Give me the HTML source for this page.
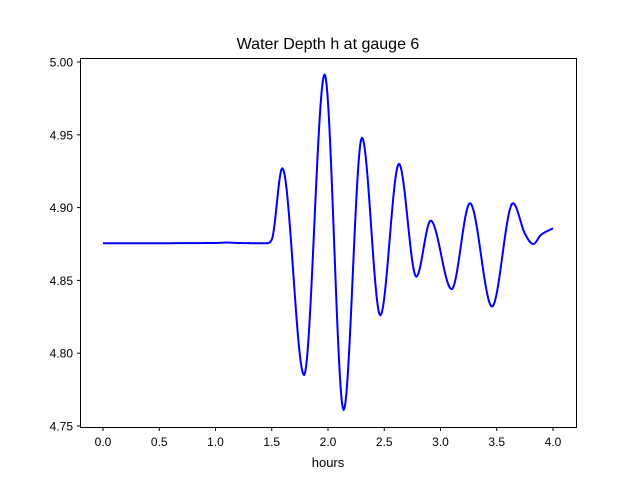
<!DOCTYPE html>
<html><head><meta charset="utf-8"><style>
body{margin:0;background:#fff}
svg{display:block;font-family:"Liberation Sans","DejaVu Sans",sans-serif}
</style></head><body>
<svg id="chart" width="640" height="480">
<rect x="0" y="0" width="640" height="480" fill="#fff"/>
<text x="328" y="49" font-size="16" text-anchor="middle">Water Depth h at gauge 6</text>
<g id="plot"></g>
<rect x="80.5" y="58.5" width="496" height="369" fill="none" stroke="#000" stroke-width="1"/>
<text x="328" y="467" font-size="13" text-anchor="middle">hours</text>
</svg>
<script>
const xTicks=[0,0.5,1.0,1.5,2.0,2.5,3.0,3.5,4.0];
const xTickLabels=["0.0","0.5","1.0","1.5","2.0","2.5","3.0","3.5","4.0"];
const yTicks=[4.75,4.80,4.85,4.90,4.95,5.00];
const yTickLabels=["4.75","4.80","4.85","4.90","4.95","5.00"];
const hours=[0,1.0,1.1,1.2,1.45,1.5,1.594,1.787,1.970,2.139,2.302,2.465,2.631,2.785,2.913,3.099,3.262,3.458,3.644,3.751,3.825,3.89,4.0];
const depth=[4.8755,4.8757,4.876,4.8757,4.8755,4.878,4.927,4.785,4.9915,4.761,4.948,4.826,4.930,4.8526,4.891,4.844,4.903,4.832,4.903,4.882,4.875,4.881,4.8858];
const NS="http://www.w3.org/2000/svg";
function sx(v){return 103+v*112.5;}
function sy(v){return 62+(5.00-v)*1456;}
const plot=document.getElementById('plot');
function mk(t,a){const e=document.createElementNS(NS,t);for(const k in a)e.setAttribute(k,a[k]);return e;}
xTicks.forEach((t,i)=>{
 const l=mk('line',{x1:sx(t),x2:sx(t),y1:427.5,y2:431,stroke:'#000'});
 
 
 plot.appendChild(l);
 const tx=mk('text',{x:sx(t),y:446,'font-size':12,'text-anchor':'middle'});
 tx.textContent=xTickLabels[i];
 
 
 plot.appendChild(tx);
});
yTicks.forEach((t,i)=>{
 const l=mk('line',{x1:77,x2:80.5,y1:sy(t),y2:sy(t),stroke:'#000'});
 
 
 plot.appendChild(l);
 const tx=mk('text',{x:73,y:sy(t)+4.5,'font-size':12,'text-anchor':'end'});
 tx.textContent=yTickLabels[i];
 
 
 plot.appendChild(tx);
});
// monotone cubic interpolation
const n=hours.length,d=[],m=[];
for(let i=0;i<n-1;i++)d.push((depth[i+1]-depth[i])/(hours[i+1]-hours[i]));
for(let i=0;i<n;i++){
 if(i==0)m.push(d[0]);else if(i==n-1)m.push(d[n-2]);
 else m.push(d[i-1]*d[i]<=0?0:(d[i-1]+d[i])/2);
}
for(let i=0;i<n-1;i++){
 if(d[i]==0){m[i]=0;m[i+1]=0;continue;}
 const a=m[i]/d[i],b=m[i+1]/d[i],s=a*a+b*b;
 if(s>9){const t=3/Math.sqrt(s);m[i]=t*a*d[i];m[i+1]=t*b*d[i];}
}
let p='';
for(let i=0;i<n-1;i++){
 const h=hours[i+1]-hours[i];
 for(let k=0;k<=20;k++){
  if(i>0&&k==0)continue;
  const t=k/20,t2=t*t,t3=t2*t;
  const v=(2*t3-3*t2+1)*depth[i]+(t3-2*t2+t)*h*m[i]+(-2*t3+3*t2)*depth[i+1]+(t3-t2)*h*m[i+1];
  p+=(p?'L':'M')+sx(hours[i]+t*h).toFixed(2)+','+sy(v).toFixed(2);
 }
}
const line=mk('path',{d:p,fill:'none',stroke:'#0000ff','stroke-width':2,'stroke-linejoin':'round'});


plot.appendChild(line);
</script>
</body></html>
